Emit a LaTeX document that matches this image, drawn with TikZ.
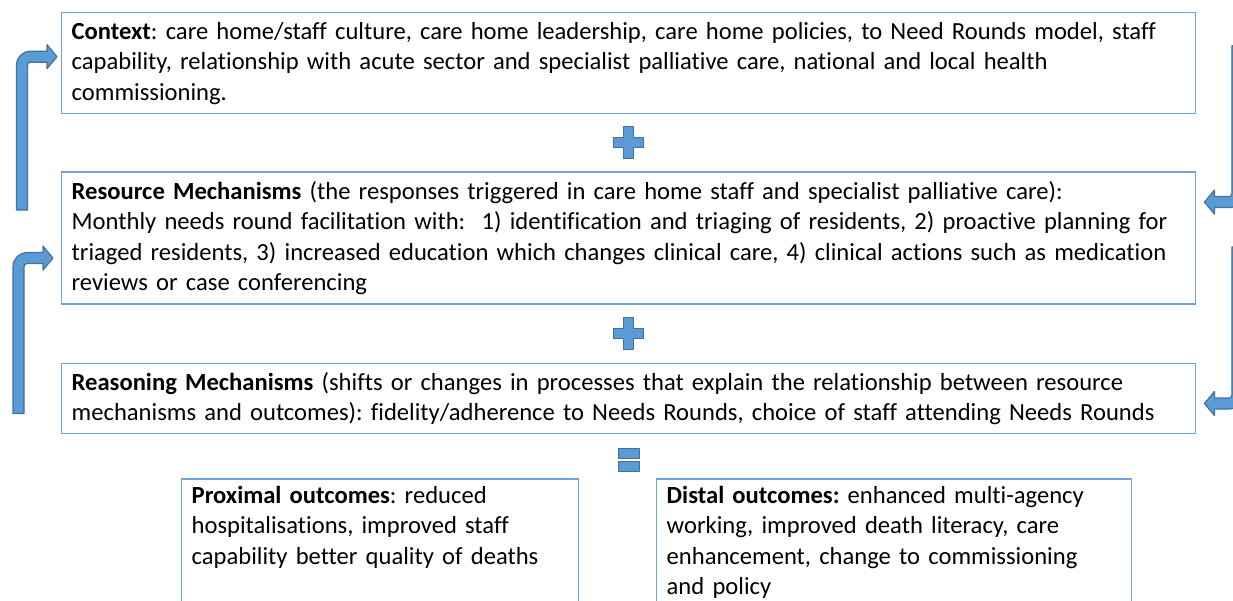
\documentclass[tikz,border=0pt]{standalone}
\usepackage{fontspec}
\setmainfont{Carlito}[Ligatures=NoCommon]
\usetikzlibrary{positioning, calc}
\definecolor{boxblue}{HTML}{6FA3DC}
\definecolor{arrowfill}{HTML}{5B9BD5}
\definecolor{arrowline}{HTML}{41719C}
\tikzstyle{stage} = [rectangle, draw=boxblue, line width=1.4pt, anchor=north west, align=left, inner xsep=10pt, inner ysep=7pt, font=\fontsize{24.6pt}{30.5pt}\selectfont\frenchspacing]
\tikzstyle{shapefill} = [fill=arrowfill, draw=arrowline, line width=1.2pt, line join=round]

% bent arrow, shaft going up then turning right: (bottom of shaft) (tip)
\newcommand{\bentup}[2]{
    \draw[shapefill] let \p1=(#1), \p2=(#2) in
        (\x1-5.5pt, \y1) -- (\x1-5.5pt, \y2+5.5pt-14pt)
        arc[start angle=180, end angle=90, radius=14pt]
        -- (\x2-10pt, \y2+5.5pt) -- (\x2-10pt, \y2+12pt) -- (\x2, \y2)
        -- (\x2-10pt, \y2-12pt) -- (\x2-10pt, \y2-5.5pt)
        -- (\x1+5.5pt+3pt, \y2-5.5pt)
        arc[start angle=90, end angle=180, radius=3pt]
        -- (\x1+5.5pt, \y1) -- cycle;
}
% bent arrow, shaft going down then turning left: (top of shaft) (tip)
\newcommand{\bentdown}[2]{
    \draw[shapefill] let \p1=(#1), \p2=(#2) in
        (\x1-5.5pt, \y1) -- (\x1-5.5pt, \y2+5.5pt+3pt)
        arc[start angle=0, end angle=-90, radius=3pt]
        -- (\x2+10pt, \y2+5.5pt) -- (\x2+10pt, \y2+12pt) -- (\x2, \y2)
        -- (\x2+10pt, \y2-12pt) -- (\x2+10pt, \y2-5.5pt)
        -- (\x1+5.5pt-14pt, \y2-5.5pt)
        arc[start angle=270, end angle=360, radius=14pt]
        -- (\x1+5.5pt, \y1) -- cycle;
}
\newcommand{\plussign}[1]{
    \draw[shapefill] let \p1=(#1) in
        (\x1-5pt, \y1+16pt) -- (\x1+5pt, \y1+16pt) -- (\x1+5pt, \y1+5pt)
        -- (\x1+15pt, \y1+5pt) -- (\x1+15pt, \y1-5pt) -- (\x1+5pt, \y1-5pt)
        -- (\x1+5pt, \y1-16pt) -- (\x1-5pt, \y1-16pt) -- (\x1-5pt, \y1-5pt)
        -- (\x1-15pt, \y1-5pt) -- (\x1-15pt, \y1+5pt) -- (\x1-5pt, \y1+5pt) -- cycle;
}
\newcommand{\equalsign}[1]{
    \draw[shapefill] let \p1=(#1) in
        (\x1-10.5pt, \y1+11.5pt) rectangle (\x1+10.5pt, \y1+1.5pt)
        (\x1-10.5pt, \y1-1.5pt) rectangle (\x1+10.5pt, \y1-11.5pt);
}

\begin{document}
\begin{tikzpicture}[x=1pt, y=1pt, node distance=57pt]
    \useasboundingbox (0,0) rectangle (1233,-601);
    \clip (0,0) rectangle (1233,-601);

    \node [stage, minimum width=1134pt, minimum height=101pt, text width=1114pt] (context) at (61,-12)
        {\textbf{Context}: care home/staff culture, care home leadership, care home policies, to Need Rounds model, staff\\
        capability, relationship with acute sector and specialist palliative care, national and local health\\
        commissioning.};
    \node [stage, minimum width=1134pt, minimum height=132pt, text width=1114pt, below=of context.south west, anchor=north west] (resource)
        {\textbf{Resource Mechanisms} (the responses triggered in care home staff and specialist palliative care):\\
        Monthly needs round facilitation with:\ \ 1) identification and triaging of residents, 2) proactive planning for\\
        triaged residents, 3) increased education which changes clinical care, 4) clinical actions such as medication\\
        reviews or case conferencing};
    \node [stage, minimum width=1134pt, minimum height=70pt, text width=1114pt, below=58pt of resource.south west, anchor=north west] (reasoning)
        {\textbf{Reasoning Mechanisms} (shifts or changes in processes that explain the relationship between resource\\
        mechanisms and outcomes): fidelity/adherence to Needs Rounds, choice of staff attending Needs Rounds};

    \node [stage, minimum width=397pt, text width=377pt] (proximal) at ([xshift=120pt, yshift=-44pt]reasoning.south west)
        {\textbf{Proximal outcomes}: reduced\\
        hospitalisations, improved staff\\
        capability better quality of deaths\\ \mbox{}\\ \mbox{}};
    \node [stage, minimum width=475pt, text width=455pt] (distal) at ([xshift=595pt, yshift=-44pt]reasoning.south west)
        {\textbf{Distal outcomes:} enhanced multi-agency\\
        working, improved death literacy, care\\
        enhancement, change to commissioning\\
        and policy\\ \mbox{}};

    \coordinate (plusA) at ($(context.south)!0.5!(resource.north)$);
    \coordinate (plusB) at ($(resource.south)!0.5!(reasoning.north)$);
    \coordinate (equals) at ([yshift=-25.5pt]reasoning.south);
    \plussign{plusA}
    \plussign{plusB}
    \equalsign{equals}

    \coordinate (upAstart) at ([xshift=-39pt, yshift=28pt]resource.west);
    \coordinate (upAtip) at ([xshift=-4pt, yshift=6.5pt]context.west);
    \coordinate (upBstart) at ([xshift=-42.5pt, yshift=-15pt]reasoning.west);
    \coordinate (upBtip) at ([xshift=-8pt, yshift=-20pt]resource.west);
    \bentup{upAstart}{upAtip}
    \bentup{upBstart}{upBtip}

    \coordinate (downAstart) at ([xshift=41pt, yshift=17.5pt]context.east);
    \coordinate (downAtip) at ([xshift=8pt, yshift=36pt]resource.east);
    \coordinate (downBstart) at ([xshift=41pt, yshift=-9pt]resource.east);
    \coordinate (downBtip) at ([xshift=8pt, yshift=-5pt]reasoning.east);
    \bentdown{downAstart}{downAtip}
    \bentdown{downBstart}{downBtip}
\end{tikzpicture}
\end{document}
